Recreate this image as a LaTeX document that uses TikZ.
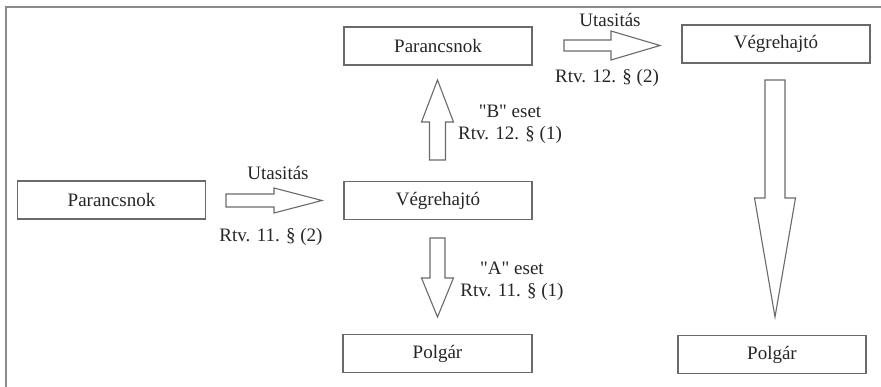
\documentclass[tikz,border=0pt]{standalone}
\usepackage{fontspec}
\setmainfont{Liberation Serif}[Ligatures=NoCommon]
\newfontfamily\tms{Liberation Serif}
\usetikzlibrary{calc}
\definecolor{linec}{HTML}{6A6A6A}
\definecolor{framec}{HTML}{8A8A8A}
\definecolor{txtc}{HTML}{262626}
\tikzset{
  box/.style={draw=linec, line width=1.1pt, fill=white, minimum width=#1, minimum height=38pt, inner sep=0pt, text=txtc, font=\tms\fontsize{19}{22}\selectfont},
  box/.default={188pt},
  lbl/.style={text=txtc, font=\tms\fontsize{19}{22}\selectfont, inner sep=0pt, align=center},
  barrow/.style={draw=linec, line width=1.1pt, fill=white, line join=miter}
}
% block arrow: start, end, shaft half width, head half width, head length
\newcommand{\blockarr}[5]{%
  \coordinate (bh) at ($(#2)!#5!(#1)$);
  \draw[barrow] ($(#1)!#3!90:(#2)$) -- ($(bh)!#3!-90:(#1)$) -- ($(bh)!#4!-90:(#1)$) -- (#2)
    -- ($(bh)!#4!90:(#1)$) -- ($(bh)!#3!90:(#1)$) -- ($(#1)!#3!-90:(#2)$) -- cycle;
}
\newcommand{\dq}{\symbol{34}}
\begin{document}
\begin{tikzpicture}[x=1pt,y=-1pt]
\useasboundingbox (0,0) rectangle (881,387);
\fill[white] (0,0) rectangle (881,387);
% frame
\draw[framec, line width=1.3pt] (6,387) -- (6,7) -- (881,7);

% boxes
\node[box] (p1) at (111.5,200) {Parancsnok};
\node[box] (v1) at (438,200.5) {Végrehajtó};
\node[box] (p2) at (438,46) {Parancsnok};
\node[box] (v2) at (776,44) {Végrehajtó};
\node[box={189pt}] (g1) at (437.5,353.5) {Polgár};
\node[box] (g2) at (772,354.5) {Polgár};

% arrows
\coordinate (a1s) at (226,200.5);
\coordinate (a1e) at (322,200.5);
\blockarr{a1s}{a1e}{6.5pt}{12.5pt}{48pt}

\coordinate (a2s) at (564,45.5);
\coordinate (a2e) at (660,45.5);
\blockarr{a2s}{a2e}{5.5pt}{14.5pt}{49pt}

\coordinate (a3s) at (437.5,160);
\coordinate (a3e) at (437.5,80);
\blockarr{a3s}{a3e}{8pt}{16pt}{42pt}

\coordinate (a4s) at (437.5,238);
\coordinate (a4e) at (437.5,317);
\blockarr{a4s}{a4e}{7.5pt}{16pt}{39pt}

\coordinate (a5s) at (775,80);
\coordinate (a5e) at (775,317);
\blockarr{a5s}{a5e}{10pt}{20.5pt}{119pt}

% labels
\node[lbl] (t1) at (278,173) {Utasitás};
\node[lbl] (t2) at (271,237) {Rtv. 11. § (2)};
\node[lbl] (t3) at (610,20) {Utasitás};
\node[lbl] (t4) at (607,78) {Rtv. 12. § (2)};
\node[lbl] (t5) at (510,124) {\dq B\dq{} eset\\Rtv. 12. § (1)};
\node[lbl] (t6) at (512,281) {\dq A\dq{} eset\\Rtv. 11. § (1)};
\end{tikzpicture}
\end{document}
